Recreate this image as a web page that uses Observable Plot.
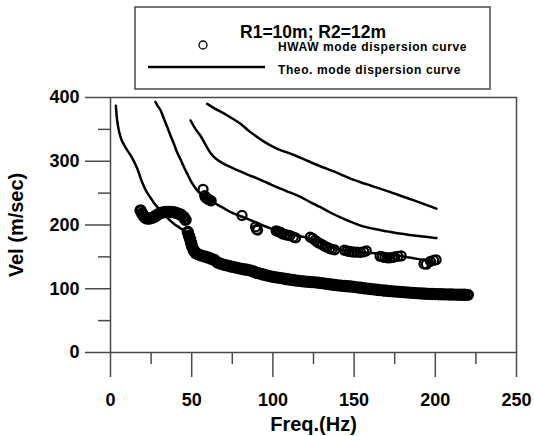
<!DOCTYPE html>
<html>
<head>
<meta charset="utf-8">
<script src="https://cdn.jsdelivr.net/npm/d3@7"></script>
<script src="https://cdn.jsdelivr.net/npm/@observablehq/plot@0.6"></script>
<style>
  html, body { margin: 0; padding: 0; background: #fff; }
  #wrap { position: relative; width: 534px; height: 436px; font-family: "Liberation Sans", Arial, sans-serif; }
  #wrap svg { position: absolute; left: 0; top: 0; }
</style>
</head>
<body>
<div id="wrap"></div>
<script>
// ---- Data ----
// Theoretical dispersion curves (solid lines)
const theo1Freq = [3.3, 4.1, 5, 6.2, 9.2, 13.4, 16.4, 19.5, 22, 24.6, 27.5, 30.8, 35, 39, 43, 46.2, 48, 50, 52, 56, 62, 70, 80, 90, 100, 120, 140, 160, 180, 200, 220];
const theo1Vel  = [387, 364, 350, 338, 322, 305, 289, 267, 253, 243, 232, 223, 211, 202, 195, 189, 182, 168, 157, 151, 147, 137.5, 131.5, 125, 118.7, 111.2, 105.3, 99.6, 94.7, 91.6, 90.4];

const theo2Freq = [27.7, 29, 30.8, 33, 34.9, 37, 39, 41, 43.1, 45, 47.2, 49.5, 51.5, 53.4, 56, 59.5, 62.3, 65, 68.6, 72, 75, 79, 84, 89.5, 95, 100, 105, 110, 115, 121, 127, 133, 138, 145, 150, 157, 163, 170, 177, 184, 192, 200];
const theo2Vel  = [393, 387, 380, 366, 354, 340, 327.6, 314, 303, 292, 280.5, 269, 261, 254, 248, 241, 237, 233, 228, 223, 219, 215, 210, 204, 198, 193.5, 189.5, 186, 183, 180, 175, 168, 163, 160, 158.5, 157, 155.5, 153.5, 152, 149, 145.5, 142.5];

const theo3Freq = [49.3, 52, 55.4, 58.5, 61.6, 64.5, 67.7, 72, 78, 84, 90.3, 97, 104.7, 110, 117, 123, 129.3, 135, 141.6, 148, 154, 162, 170.4, 178, 186.8, 194, 200.7];
const theo3Vel  = [364, 352, 340, 326, 313, 305, 299, 293, 286, 279.5, 273, 265.5, 257, 251.5, 244, 236, 228, 220, 212, 205, 199, 194, 190, 186.5, 183.7, 181.5, 179.5];

const theo4Freq = [59.5, 64, 69.8, 75, 80, 85, 90.3, 95, 100.6, 105, 110.8, 116, 121, 127, 133.4, 137.5, 142, 147.8, 154, 160, 166, 172.4, 179, 186.8, 194, 200.7];
const theo4Vel  = [390, 383, 375, 367, 359, 348, 338, 330, 322, 317, 312, 306.5, 301, 294.5, 288, 284, 279, 272.7, 267, 262, 257, 251.6, 245.5, 238.6, 232, 225.6];

// HWAW measured points, fundamental branch (dense band)
const hwawFundFreq = [18.5, 19.5, 20.5, 21.5, 22.6, 24, 25.5, 26.7, 28, 29.5, 31, 32.8, 34.5, 36, 37.5, 39, 40.5, 42, 43.5, 45.1, 46.2,
  47.6, 48.3, 49, 49.6, 50.3, 51.3, 52.5, 54, 56, 58, 60, 62, 64, 66, 68, 70, 72, 74, 76, 78, 80, 82, 84, 86, 88, 90, 92, 94, 96, 98,
  100, 102, 104, 106, 108, 110, 112, 114, 116, 118, 120, 122, 124, 126, 128, 130, 132, 134, 136, 138, 140, 142, 144, 146, 148,
  150, 152, 154, 156, 158, 160, 162, 164, 166, 168, 170, 172, 174, 176, 178, 180, 182, 184, 186, 188, 190, 192, 194, 196, 198,
  200, 202, 204, 206, 208, 210, 212, 214, 216, 218, 220];
const hwawFundVel = [223, 218, 214, 211, 210, 210, 211, 212.4, 214.5, 217, 219, 220, 220.5, 220.6, 220.5, 220, 219, 217.5, 216, 212.4, 208,
  189, 183, 178, 172, 166, 160, 156, 154, 152, 150.5, 149, 147, 145, 141, 139, 137.5, 136.3, 135, 134, 132.8, 131.5, 130.5, 129.7, 128.7, 127, 125, 123.7, 122.3, 121, 119.8,
  118.7, 117.8, 117, 116.2, 115.3, 114.5, 113.8, 113, 112.4, 111.8, 111.2, 110.8, 110.4, 110, 109.5, 108.8, 108, 107.3, 106.6, 106, 105.3, 104.8, 104.3, 103.9, 103.5,
  103, 102.2, 101.5, 100.8, 100.2, 99.6, 99, 98.4, 97.8, 97.3, 96.8, 96.3, 95.9, 95.5, 95.1, 94.7, 94.3, 93.9, 93.5, 93.1, 92.8, 92.5, 92.2, 92, 91.8,
  91.6, 91.4, 91.3, 91.1, 91, 90.9, 90.8, 90.7, 90.6, 90.5, 90.4];

// HWAW measured points, higher mode
const hwawM2Freq = [57, 58, 58.5, 59.5, 60.3, 61, 62, 81, 89.3, 90, 90.6, 102, 103, 104, 105, 106, 107.5, 109, 110.5, 112.6, 114,
  123, 124.5, 126, 127.5, 129, 130.5, 132, 133.5, 135, 136.5, 138, 144, 145.5, 147, 148.5, 150, 152, 154, 156, 157.5,
  166, 167.5, 169, 170.5, 172, 173.5, 175, 177, 179, 193, 194.5, 197, 199, 200.5];
const hwawM2Vel = [256, 246, 243, 241, 240.5, 239, 238, 215, 197, 193, 192, 191, 190, 189, 188, 186, 185, 184, 183.5, 181, 180,
  181, 179, 176, 173, 171, 169, 166.5, 165, 163, 162, 161, 160.5, 159.5, 158.5, 158, 157.5, 157.3, 157, 158, 159.5,
  151, 150, 149, 148.5, 148.5, 149, 150, 151, 151.5, 139, 138.5, 143, 144.5, 145.5];

// Axis ticks
const yMajorTicks = [0, 100, 200, 300, 400];
const yMinorTicks = [50, 150, 250, 350];
const xMajorTicks = [0, 50, 100, 150, 200, 250];
const xMinorTicks = [25, 75, 125, 175, 225];

// ---- Build tables ----
const zip = (fs, vs, curve) => fs.map((f, i) => ({f, v: vs[i], curve}));
const theo = [
  ...zip(theo1Freq, theo1Vel, "m1"),
  ...zip(theo2Freq, theo2Vel, "m2"),
  ...zip(theo3Freq, theo3Vel, "m3"),
  ...zip(theo4Freq, theo4Vel, "m4")
];
const hwawFund = zip(hwawFundFreq, hwawFundVel, "f");
const hwawM2 = zip(hwawM2Freq, hwawM2Vel, "h");

const axisColor = "#4a4a4a";
const font = "'Liberation Sans', Arial, sans-serif";

const chart = Plot.plot({
  width: 534,
  height: 436,
  marginTop: 97,
  marginRight: 18,
  marginBottom: 84,
  marginLeft: 110,
  style: {fontFamily: font, color: "#000", background: "transparent"},
  x: {domain: [0, 250]},
  y: {domain: [0, 400]},
  marks: [
    Plot.frame({stroke: axisColor, strokeWidth: 1.5}),
    Plot.axisY({ticks: yMajorTicks, tickSize: 25, tickPadding: 6, fontSize: 18, fontWeight: "bold",
      stroke: axisColor, strokeWidth: 1.5, label: "Vel (m/sec)", labelAnchor: "center", labelArrow: "none", labelOffset: 102}),
    Plot.axisY({ticks: yMinorTicks, tickSize: 12, tickFormat: () => "", stroke: axisColor, strokeWidth: 1.5, label: null}),
    Plot.axisX({ticks: xMajorTicks, tickSize: 25, tickPadding: 16, fontSize: 18, fontWeight: "bold",
      stroke: axisColor, strokeWidth: 1.5, label: "Freq.(Hz)", labelAnchor: "center", labelArrow: "none", labelOffset: 78}),
    Plot.axisX({ticks: xMinorTicks, tickSize: 12, tickFormat: () => "", stroke: axisColor, strokeWidth: 1.5, label: null}),
    Plot.line(theo, {x: "f", y: "v", z: "curve", stroke: "#000", strokeWidth: 2.5, curve: "monotone-x"}),
    Plot.dot(hwawFund, {x: "f", y: "v", r: 4.5, stroke: "#000", strokeWidth: 3.4, fill: "none"}),
    Plot.dot(hwawM2, {x: "f", y: "v", r: 4.5, stroke: "#000", strokeWidth: 2.2, fill: "none"})
  ]
});
// make axis labels bold and larger
d3.select(chart).selectAll("g[aria-label='y-axis label'] text, g[aria-label='x-axis label'] text")
  .style("font-size", "20px").style("font-weight", "bold");

const wrap = document.getElementById("wrap");
wrap.appendChild(chart);

// ---- Legend (overlay above the plot) ----
const leg = d3.create("svg").attr("width", 534).attr("height", 100)
  .style("font-family", font).style("pointer-events", "none");
leg.append("rect").attr("x", 135).attr("y", 7).attr("width", 355).attr("height", 82)
  .attr("fill", "#fff").attr("stroke", axisColor).attr("stroke-width", 1.5);
leg.append("text").attr("x", 313).attr("y", 38).attr("text-anchor", "middle")
  .attr("font-size", 17.5).attr("font-weight", "bold").text("R1=10m; R2=12m");
leg.append("circle").attr("cx", 203).attr("cy", 45).attr("r", 4)
  .attr("fill", "none").attr("stroke", "#000").attr("stroke-width", 1.3);
leg.append("text").attr("x", 278).attr("y", 51).attr("font-size", 12).attr("font-weight", "bold")
  .attr("letter-spacing", 0.6).text("HWAW mode dispersion curve");
leg.append("line").attr("x1", 148).attr("x2", 265).attr("y1", 67).attr("y2", 67)
  .attr("stroke", "#000").attr("stroke-width", 2.5);
leg.append("text").attr("x", 278).attr("y", 74).attr("font-size", 12).attr("font-weight", "bold")
  .attr("letter-spacing", 0.6).text("Theo. mode dispersion curve");
wrap.appendChild(leg.node());
</script>
</body>
</html>
